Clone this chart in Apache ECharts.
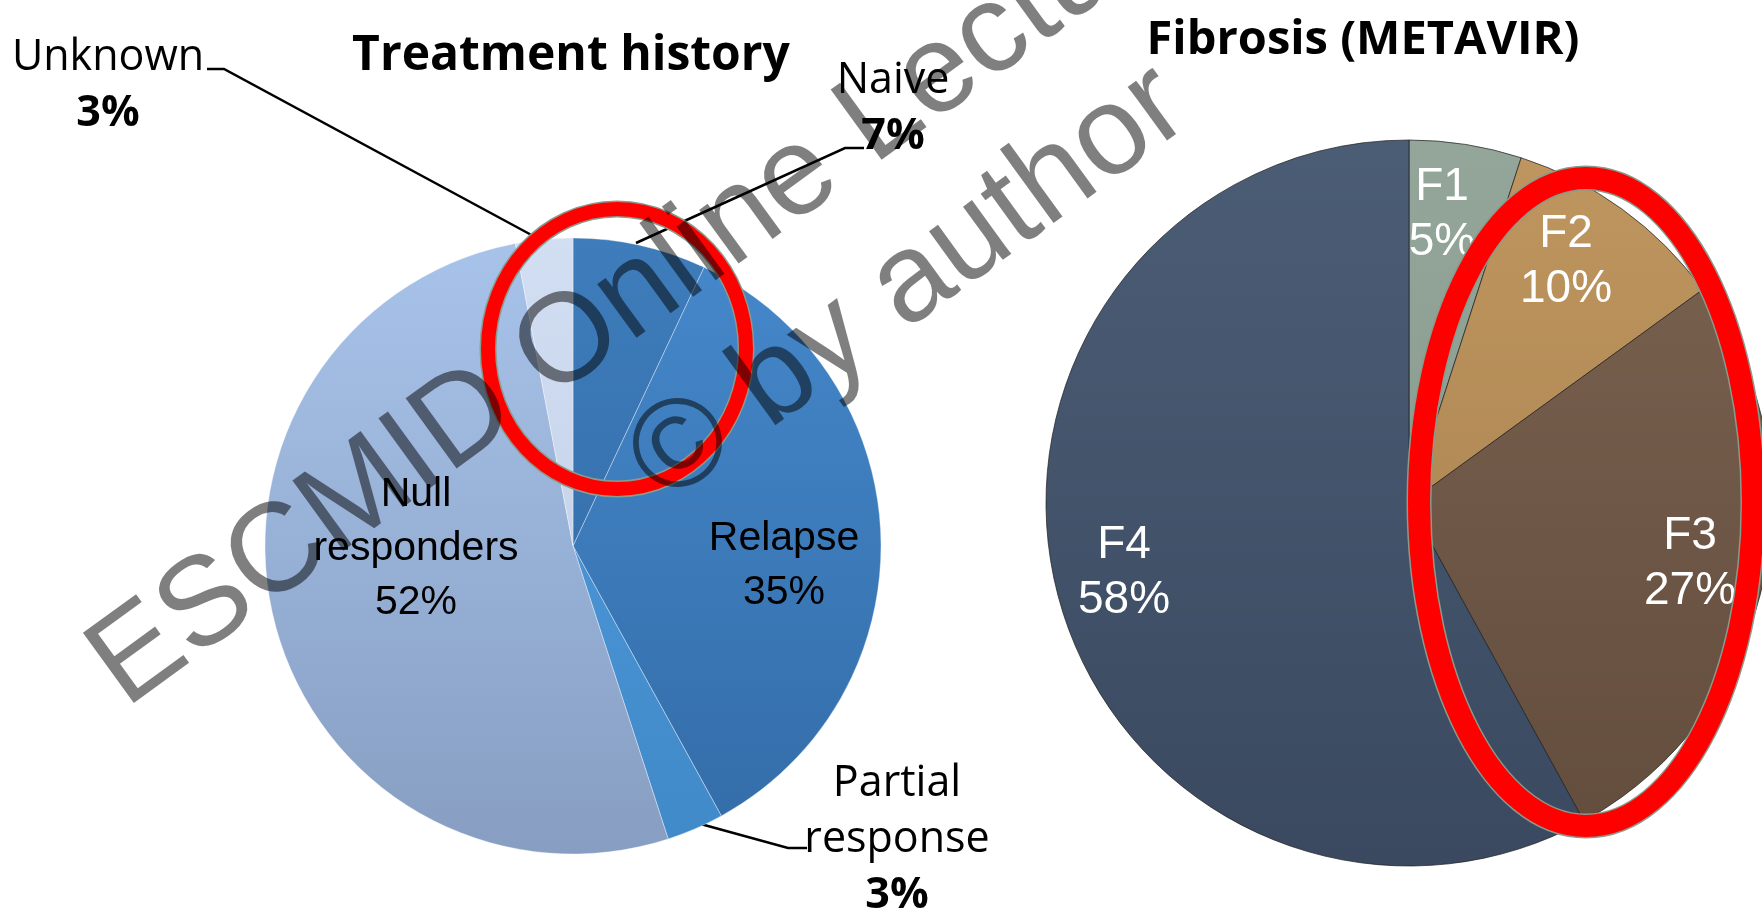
<!DOCTYPE html>
<html>
<head>
<meta charset="utf-8">
<title>Treatment history / Fibrosis (METAVIR)</title>
<script src="https://cdn.jsdelivr.net/npm/echarts@6/dist/echarts.min.js"></script>
<style>
  html, body { margin: 0; padding: 0; background: #fff; }
  #chart { width: 1762px; height: 912px; }
</style>
</head>
<body>
<div id="chart"></div>
<script>
// treatment history, % of patients (clockwise from 12 o'clock)
var treatNames = ['Naive', 'Relapse', 'Partial\nresponse', 'Null\nresponders', 'Unknown'];
var treatValues = [7, 35, 3, 52, 3];

// fibrosis stage, % of patients
var fibNames = ['F1', 'F2', 'F3', 'F4'];
var fibValues = [5, 10, 27, 58];

// label placement (kept apart from the data)
var treatLabelPos = [[893, 109], [784, 566], [897, 840], [416, 549], [108, 86]];
var treatInside = [false, true, false, true, false];
var treatLeader = [
  [[636, 243], [845, 148], [864, 148]],
  null,
  [[697, 823], [788, 848], [807, 848]],
  null,
  [[537, 238], [224, 69], [207, 69]]
];
var fibLabelPos = [[1442, 215], [1566, 262], [1690, 564], [1124, 573]];

// slice colours, [top, bottom]
var treatColors = [['#3e7cbb', '#3068a3'], ['#4588cb', '#336ca8'], ['#519ade', '#418ac9'], ['#a8c3ea', '#879ec2'], ['#d2def2', '#bccbe3']];
var fibColors = [['#93a699', '#83968a'], ['#bf965f', '#a57e4c'], ['#7b6351', '#624c3c'], ['#4b5d75', '#3a4960']];

function vgrad(c, y0, y1) {
  return {
    type: 'linear', x: 0, y: y0, x2: 0, y2: y1, global: true,
    colorStops: [{ offset: 0, color: c[0] }, { offset: 1, color: c[1] }]
  };
}

var treatData = treatValues.map(function (v, i) {
  return {
    name: treatNames[i],
    value: v,
    labelLine: { show: !treatInside[i] },
    itemStyle: { color: vgrad(treatColors[i], 238, 854) }
  };
});

var fibData = fibValues.map(function (v, i) {
  return {
    name: fibNames[i],
    value: v,
    itemStyle: { color: vgrad(fibColors[i], 140, 866) }
  };
});

function treatLabel(p) {
  var inner = treatInside[p.dataIndex];
  var lines = p.name.split('\n').map(function (s) {
    return '{' + (inner ? 'i' : 'n') + '|' + s + '}';
  });
  lines.push('{' + (inner ? 'i' : 'v') + '|' + p.value + '%}');
  return lines.join('\n');
}

var chart = echarts.init(document.getElementById('chart'));

var option = {
  animation: false,
  backgroundColor: '#ffffff',
  title: [
    {
      text: 'Treatment history',
      left: 571, top: 32, textAlign: 'center', padding: 0,
      textStyle: { fontFamily: 'Open Sans', fontWeight: 'bold', fontSize: 48, color: '#000' }
    },
    {
      text: 'Fibrosis (METAVIR)',
      left: 1363, top: 17, textAlign: 'center', padding: 0,
      textStyle: { fontFamily: 'Open Sans', fontWeight: 'bold', fontSize: 47, color: '#000' }
    }
  ],
  series: [
    {
      type: 'pie',
      center: [573, 546],
      radius: 308,
      startAngle: 90,
      clockwise: true,
      avoidLabelOverlap: false,
      itemStyle: { borderColor: 'rgba(255,255,255,0.35)', borderWidth: 1 },
      label: {
        show: true,
        position: 'outside',
        overflow: 'none',
        formatter: treatLabel,
        rich: {
          n: { fontFamily: 'Open Sans', fontSize: 43, color: '#000', lineHeight: 56 },
          v: { fontFamily: 'Open Sans', fontSize: 43, fontWeight: 'bold', color: '#000', lineHeight: 56 },
          i: { fontFamily: 'Liberation Sans', fontSize: 41, color: '#000', lineHeight: 54 }
        }
      },
      labelLine: { show: true, lineStyle: { color: '#000', width: 2.5 } },
      labelLayout: function (p) {
        var i = p.dataIndex;
        var out = { x: treatLabelPos[i][0], y: treatLabelPos[i][1], align: 'center', verticalAlign: 'middle' };
        if (treatLeader[i]) out.labelLinePoints = treatLeader[i];
        return out;
      },
      emphasis: { disabled: true },
      data: treatData
    },
    {
      type: 'pie',
      center: [1409, 503],
      radius: 363,
      startAngle: 90,
      clockwise: true,
      avoidLabelOverlap: false,
      itemStyle: { borderColor: 'rgba(30,30,30,0.7)', borderWidth: 1 },
      label: {
        show: true,
        position: 'inside',
        formatter: '{b}\n{c}%',
        fontFamily: 'Liberation Sans',
        fontSize: 46,
        lineHeight: 55,
        color: '#fff'
      },
      labelLayout: function (p) {
        var i = p.dataIndex;
        return { x: fibLabelPos[i][0], y: fibLabelPos[i][1], align: 'center', verticalAlign: 'middle' };
      },
      emphasis: { disabled: true },
      data: fibData
    }
  ],
  graphic: [
    // highlight rings
    { type: 'ellipse', z: 100, shape: { cx: 617, cy: 349, rx: 129, ry: 140 }, style: { fill: null, stroke: '#8a9a8c', lineWidth: 17 } },
    { type: 'ellipse', z: 101, shape: { cx: 617, cy: 349, rx: 129, ry: 140 }, style: { fill: null, stroke: '#ff0000', lineWidth: 14 } },
    { type: 'ellipse', z: 100, shape: { cx: 1586, cy: 502, rx: 167, ry: 324 }, style: { fill: null, stroke: '#8a9a8c', lineWidth: 25 } },
    { type: 'ellipse', z: 101, shape: { cx: 1586, cy: 502, rx: 167, ry: 324 }, style: { fill: null, stroke: '#ff0000', lineWidth: 22 } },
    // watermark
    {
      type: 'text', z: 110, x: 105, y: 681, rotation: 36 * Math.PI / 180,
      style: { text: 'ESCMID Online Lecture Library', font: '126px "Liberation Sans", Arial, sans-serif', fill: 'rgba(0,0,0,0.5)', align: 'left', verticalAlign: 'middle' }
    },
    {
      type: 'text', z: 110, x: 645, y: 477, rotation: 36 * Math.PI / 180,
      style: { text: '\u00a9 by author', font: '126px "Liberation Sans", Arial, sans-serif', fill: 'rgba(0,0,0,0.5)', align: 'left', verticalAlign: 'middle' }
    }
  ]
};

chart.setOption(option);
</script>
</body>
</html>
